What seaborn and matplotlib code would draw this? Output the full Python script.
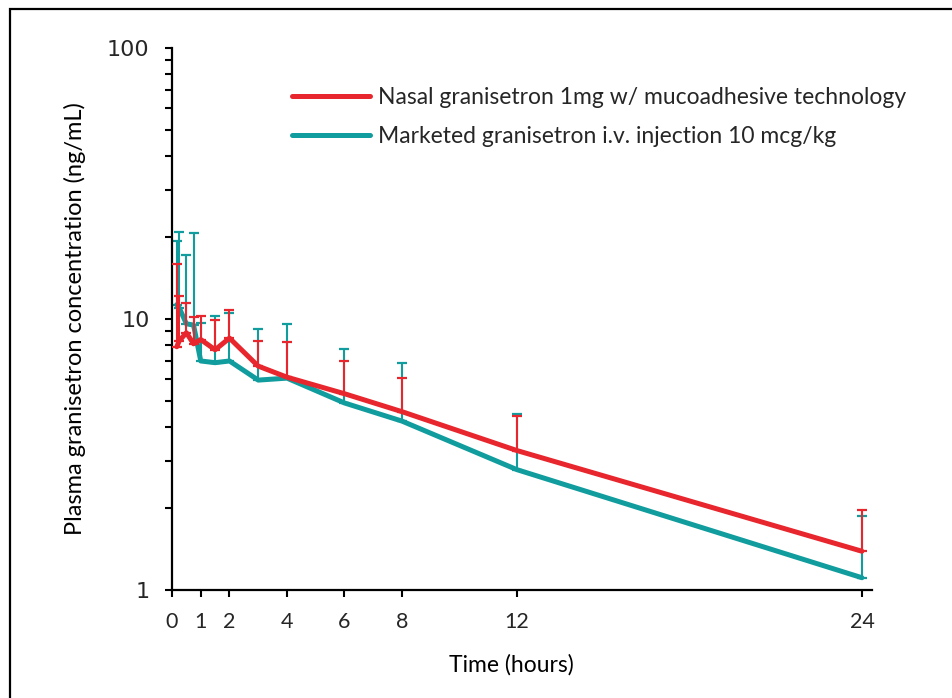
import numpy as np
import pandas as pd
import matplotlib
matplotlib.use("Agg")
import matplotlib.pyplot as plt
import seaborn as sns
from matplotlib.patches import Rectangle
from matplotlib.ticker import FixedLocator, NullFormatter, FixedFormatter

# ---------------- data ----------------
nasal_label = "Nasal granisetron 1mg w/ mucoadhesive technology"
iv_label = "Marketed granisetron i.v. injection 10 mcg/kg"

nasal_time = [0.167, 0.25, 0.5, 0.75, 1, 1.5, 2, 3, 4, 6, 8, 12, 24]
nasal_mean = [7.9, 8.3, 8.9, 8.1, 8.4, 7.7, 8.5, 6.7, 6.1, 5.3, 4.55, 3.27, 1.39]
nasal_upper = [15.9, 12.2, 11.5, 10.2, 10.3, 9.9, 10.8, 8.3, 8.2, 7.0, 6.06, 4.4, 1.97]

iv_time = [0.167, 0.25, 0.5, 0.75, 1, 1.5, 2, 3, 4, 6, 8, 12, 24]
iv_mean = [11.3, 11.0, 9.6, 9.5, 7.0, 6.9, 7.0, 5.95, 6.05, 4.9, 4.2, 2.78, 1.11]
iv_upper = [19.4, 21.0, 17.2, 20.8, 9.7, 10.3, 10.5, 9.22, 9.6, 7.76, 6.89, 4.45, 1.87]

x_ticks = [0, 1, 2, 4, 6, 8, 12, 24]
y_ticks = [1, 10, 100]
y_tick_labels = ["1", "10", "100"]

RED = "#E8262D"
TEAL = "#119C9E"

# ---------------- style ----------------
sns.set_theme(style="ticks")
plt.rcParams['font.family'] = ['Lato', 'DejaVu Sans']

W, H = 953, 698
fig = plt.figure(figsize=(W / 100, H / 100), dpi=100)
fig.patch.set_facecolor("white")
ax = fig.add_axes([172 / W, 1 - 590 / H, (872 - 172) / W, (590 - 48) / H])
ax.set_facecolor("white")

df_iv = pd.DataFrame({"time": iv_time, "conc": iv_mean})
df_nasal = pd.DataFrame({"time": nasal_time, "conc": nasal_mean})

# IV (teal) first
ax.errorbar(iv_time, iv_mean,
            yerr=[np.zeros(len(iv_mean)), np.array(iv_upper) - np.array(iv_mean)],
            fmt="none", ecolor=TEAL, elinewidth=1.5, capsize=3.3, capthick=1.6, zorder=2)
sns.lineplot(data=df_iv, x="time", y="conc", color=TEAL, linewidth=3.6,
             estimator=None, ax=ax, label=iv_label, zorder=3)
# Nasal (red) on top
ax.errorbar(nasal_time, nasal_mean,
            yerr=[np.zeros(len(nasal_mean)), np.array(nasal_upper) - np.array(nasal_mean)],
            fmt="none", ecolor=RED, elinewidth=1.5, capsize=3.3, capthick=1.6, zorder=4)
sns.lineplot(data=df_nasal, x="time", y="conc", color=RED, linewidth=3.6,
             estimator=None, ax=ax, label=nasal_label, zorder=5)

ax.set_yscale("log")
ax.set_ylim(1, 100)
ax.set_xlim(0, 24.35)

ax.yaxis.set_major_locator(FixedLocator(y_ticks))
ax.yaxis.set_major_formatter(FixedFormatter(y_tick_labels))
minor = [m * d for d in (1, 10) for m in range(2, 10)]
ax.yaxis.set_minor_locator(FixedLocator(minor))
ax.yaxis.set_minor_formatter(NullFormatter())

ax.set_xticks(x_ticks)
ax.set_xticklabels([str(t) for t in x_ticks])

for s in ["top", "right"]:
    ax.spines[s].set_visible(False)
for s in ["left", "bottom"]:
    ax.spines[s].set_color("black")
    ax.spines[s].set_linewidth(1.6)

ax.tick_params(axis="both", which="both", direction="out", length=5.2, width=1.5,
               color="black", left=True, bottom=True)
ax.tick_params(axis="y", which="major", pad=11, labelsize=16)
ax.tick_params(axis="x", which="major", pad=11, labelsize=15.5)
for lab in ax.get_yticklabels():
    lab.set_fontfamily(["DejaVu Sans"])

ax.set_xlabel("Time (hours)", fontsize=16.5, color="black")
ax.xaxis.set_label_coords((511 - 172) / 700, -(665 - 590) / 542, transform=ax.transAxes)
ax.xaxis.label.set_verticalalignment("center")
ax.set_ylabel("Plasma granisetron concentration (ng/mL)", fontsize=17, labelpad=15, color="black")
ax.grid(False)

# legend
handles, labels = ax.get_legend_handles_labels()
order = [labels.index(nasal_label), labels.index(iv_label)]
ax.legend([handles[i] for i in order], [labels[i] for i in order],
          loc="upper left", bbox_to_anchor=(292 / W, 1 - 87 / H),
          bbox_transform=fig.transFigure, frameon=False, fontsize=16.5,
          handlelength=3.4, handletextpad=0.35, labelspacing=0.78, borderpad=0,
          borderaxespad=0)

# outer frame (cut at right and bottom)
fig.add_artist(Rectangle((10 / W, -0.5), 2.0, (1 - 9 / H) + 0.5,
                         transform=fig.transFigure, fill=False,
                         edgecolor="black", linewidth=1.6, clip_on=False))

fig.savefig("out.png", dpi=100, facecolor="white")
